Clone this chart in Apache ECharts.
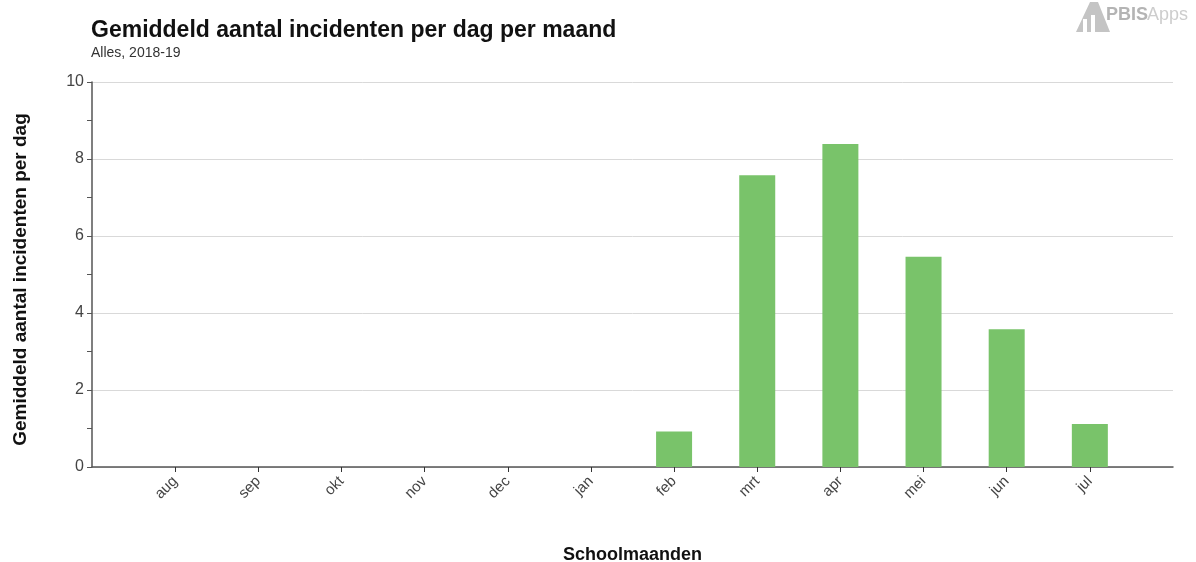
<!DOCTYPE html>
<html>
<head>
<meta charset="utf-8">
<script src="https://cdn.jsdelivr.net/npm/echarts@6/dist/echarts.min.js"></script>
<style>
html,body{margin:0;padding:0;background:#fff;}
#chart{width:1196px;height:562px;}
</style>
</head>
<body>
<div id="chart"></div>
<script>
const months = ['aug','sep','okt','nov','dec','jan','feb','mrt','apr','mei','jun','jul'];
const values = [0, 0, 0, 0, 0, 0, 0.92, 7.58, 8.39, 5.46, 3.58, 1.12];
const yTicks = [0, 2, 4, 6, 8, 10];

// padded category list gives one empty step at each end of the axis
const axisCats = [''].concat(months, ['']);
const axisVals = [null].concat(values, [null]);

const chart = echarts.init(document.getElementById('chart'));
const font = '"Liberation Sans", Arial, sans-serif';
chart.setOption({
  animation: false,
  textStyle: { fontFamily: font },
  title: {
    text: 'Gemiddeld aantal incidenten per dag per maand',
    subtext: 'Alles, 2018-19',
    left: 91, top: 19,
    padding: 0,
    itemGap: 4,
    textStyle: { fontFamily: font, fontSize: 23, fontWeight: 'bold', color: '#111' },
    subtextStyle: { fontFamily: font, fontSize: 14, color: '#333' }
  },
  graphic: [
    {
      type: 'polygon', left: 1076, top: 2,
      shape: { points: [[0,30],[14,0],[22,0],[34,30]] },
      style: { fill: '#c4c4c4' }
    },
    {
      type: 'rect', left: 1083, top: 19,
      shape: { width: 4, height: 13 }, style: { fill: '#ffffff' }
    },
    {
      type: 'rect', left: 1091, top: 15,
      shape: { width: 4, height: 17 }, style: { fill: '#ffffff' }
    },
    {
      type: 'text', left: 1106, top: 6,
      style: { text: 'PBIS', font: 'bold 18px ' + font, fill: '#b4b4b4' }
    },
    {
      type: 'text', left: 1147, top: 6,
      style: { text: 'Apps', font: '18px ' + font, fill: '#cdcdcd' }
    }
  ],
  grid: { left: 92, right: 23, top: 82, bottom: 95, containLabel: false, outerBoundsMode: 'none' },
  xAxis: {
    type: 'category',
    data: axisCats,
    boundaryGap: false,
    name: 'Schoolmaanden',
    nameLocation: 'middle',
    nameGap: 79,
    nameTextStyle: { fontFamily: font, fontSize: 18, fontWeight: 'bold', color: '#111' },
    axisLine: { lineStyle: { color: '#555', width: 1.5 } },
    axisTick: {
      length: 5, alignWithLabel: true,
      interval: (i, v) => v !== '',
      lineStyle: { color: '#333' }
    },
    axisLabel: {
      rotate: 45, interval: 0, margin: 12,
      fontFamily: font, fontSize: 15, color: '#444'
    },
    splitLine: { show: false }
  },
  yAxis: {
    type: 'value',
    min: yTicks[0], max: yTicks[yTicks.length - 1], interval: 2,
    name: 'Gemiddeld aantal incidenten per dag',
    nameLocation: 'middle',
    nameGap: 62,
    nameTextStyle: { fontFamily: font, fontSize: 19, fontWeight: 'bold', color: '#111', padding: [0, 10, 0, 0] },
    axisLine: { show: true, lineStyle: { color: '#555', width: 1.5 } },
    axisTick: { show: true, length: 5, lineStyle: { color: '#555' } },
    minorTick: { show: true, splitNumber: 2, length: 5, lineStyle: { color: '#555' } },
    axisLabel: { fontFamily: font, fontSize: 16, color: '#444', margin: 8 },
    splitLine: { show: true, lineStyle: { color: '#d9d9d9', width: 1 } }
  },
  series: [{
    type: 'bar',
    data: axisVals,
    barWidth: 36,
    itemStyle: { color: '#79c36a' }
  }]
});
</script>
</body>
</html>
